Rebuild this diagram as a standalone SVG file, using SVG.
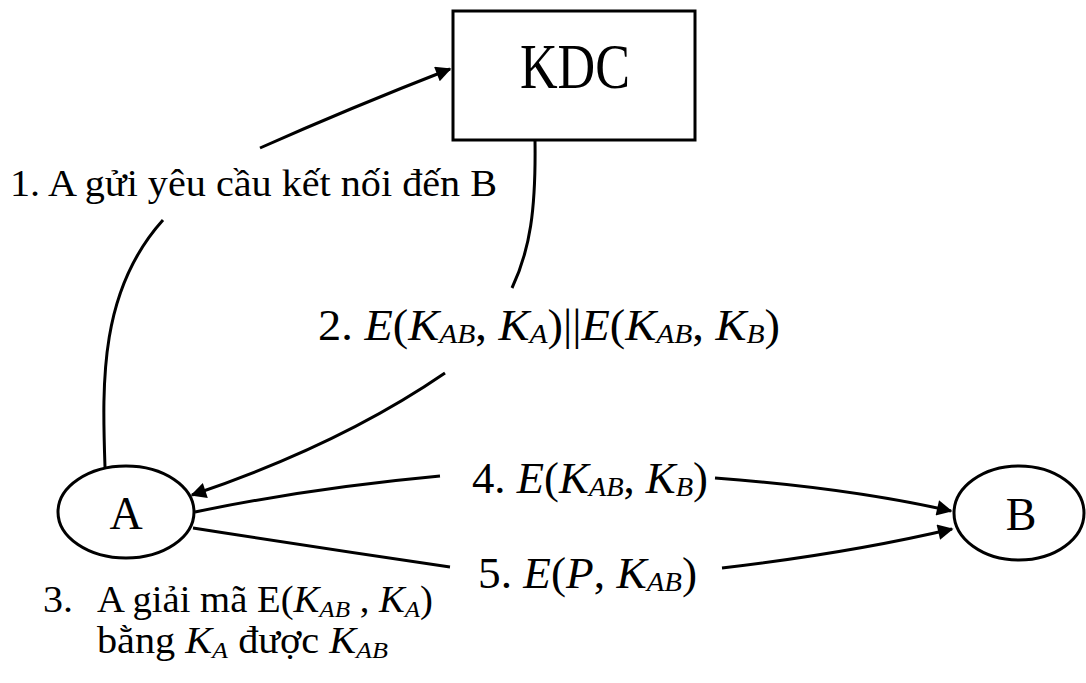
<svg xmlns="http://www.w3.org/2000/svg" width="1086" height="683" viewBox="0 0 1086 683">
  <style>
    .shape { fill: #ffffff; stroke: #000000; stroke-width: 3; }
    .edge { fill: none; stroke: #000000; stroke-width: 3; }
    .txt { font-family: "Liberation Serif", "DejaVu Serif", serif; fill: #000000; }
    .it { font-style: italic; }
    .sub { font-size: 28px; font-style: italic; }
    .sub3 { font-size: 24px; font-style: italic; }
  </style>
  <defs>
    <marker id="arrow" viewBox="0 0 10 10" refX="9" refY="5" markerWidth="6" markerHeight="5.2" markerUnits="strokeWidth" orient="auto">
      <path d="M0,0 L10,5 L0,10 Z" fill="#000000"/>
    </marker>
  </defs>

  <!-- connectors -->
  <g id="connectors">
    <!-- 1: A -> KDC (interrupted by its label) -->
    <path id="edge-1" class="edge" d="M105,467 C102,380 100,290 163,220 M260,148 Q350,108 450,69" marker-end="url(#arrow)"/>
    <!-- 2: KDC -> A (interrupted by its label) -->
    <path id="edge-2" class="edge" d="M535,140 C536,210 530,250 512,288 M445,373 Q340,445 192,495" marker-end="url(#arrow)"/>
    <!-- 4: A -> B -->
    <path id="edge-4" class="edge" d="M195,512 Q310,488 440,476 M715,478 Q850,488 951,511" marker-end="url(#arrow)"/>
    <!-- 5: A -> B -->
    <path id="edge-5" class="edge" d="M193,528 Q320,548 450,567 M722,568 Q850,553 952,529" marker-end="url(#arrow)"/>
  </g>

  <!-- nodes -->
  <g id="node-kdc">
    <rect class="shape" x="453" y="11" width="242" height="129"/>
    <text class="txt" x="520" y="88" font-size="64" textLength="110" lengthAdjust="spacingAndGlyphs">KDC</text>
  </g>
  <g id="node-a">
    <ellipse class="shape" cx="126" cy="512" rx="68" ry="46" stroke-width="2.5"/>
    <text class="txt" x="126" y="529" font-size="46" text-anchor="middle">A</text>
  </g>
  <g id="node-b">
    <ellipse class="shape" cx="1019" cy="513" rx="65" ry="47" stroke-width="2.5"/>
    <text class="txt" x="1021" y="530" font-size="46" text-anchor="middle">B</text>
  </g>

  <!-- edge labels -->
  <g id="labels">
    <text id="label-1" class="txt" x="10" y="196" font-size="37" textLength="487" lengthAdjust="spacingAndGlyphs">1. A gửi yêu cầu kết nối đến B</text>

    <text id="label-2" class="txt" x="318" y="340" font-size="44" textLength="462" lengthAdjust="spacingAndGlyphs">2. <tspan class="it">E</tspan>(<tspan class="it">K</tspan><tspan class="sub" dy="3">AB</tspan><tspan dy="-3">, </tspan><tspan class="it">K</tspan><tspan class="sub" dy="3">A</tspan><tspan dy="-3">)||</tspan><tspan class="it">E</tspan>(<tspan class="it">K</tspan><tspan class="sub" dy="3">AB</tspan><tspan dy="-3">, </tspan><tspan class="it">K</tspan><tspan class="sub" dy="3">B</tspan><tspan dy="-3">)</tspan></text>

    <text id="label-4" class="txt" x="472" y="493" font-size="44" textLength="236" lengthAdjust="spacingAndGlyphs">4. <tspan class="it">E</tspan>(<tspan class="it">K</tspan><tspan class="sub" dy="3">AB</tspan><tspan dy="-3">, </tspan><tspan class="it">K</tspan><tspan class="sub" dy="3">B</tspan><tspan dy="-3">)</tspan></text>

    <text id="label-5" class="txt" x="478" y="588" font-size="44" textLength="219" lengthAdjust="spacingAndGlyphs">5. <tspan class="it">E</tspan>(<tspan class="it">P</tspan>, <tspan class="it">K</tspan><tspan class="sub" dy="3">AB</tspan><tspan dy="-3">)</tspan></text>

    <text id="label-3a" class="txt" x="43" y="612" font-size="37" textLength="30" lengthAdjust="spacingAndGlyphs">3.</text>
    <text id="label-3b" class="txt" x="97" y="612" font-size="37" textLength="336" lengthAdjust="spacingAndGlyphs">A giải mã E(<tspan class="it">K</tspan><tspan class="sub3" dy="5">AB</tspan><tspan dy="-5"> , </tspan><tspan class="it">K</tspan><tspan class="sub3" dy="5">A</tspan><tspan dy="-5">)</tspan></text>
    <text id="label-3c" class="txt" x="97" y="653" font-size="37" textLength="291" lengthAdjust="spacingAndGlyphs">bằng <tspan class="it">K</tspan><tspan class="sub3" dy="5">A</tspan><tspan dy="-5"> được </tspan><tspan class="it">K</tspan><tspan class="sub3" dy="5">AB</tspan></text>
  </g>
</svg>
